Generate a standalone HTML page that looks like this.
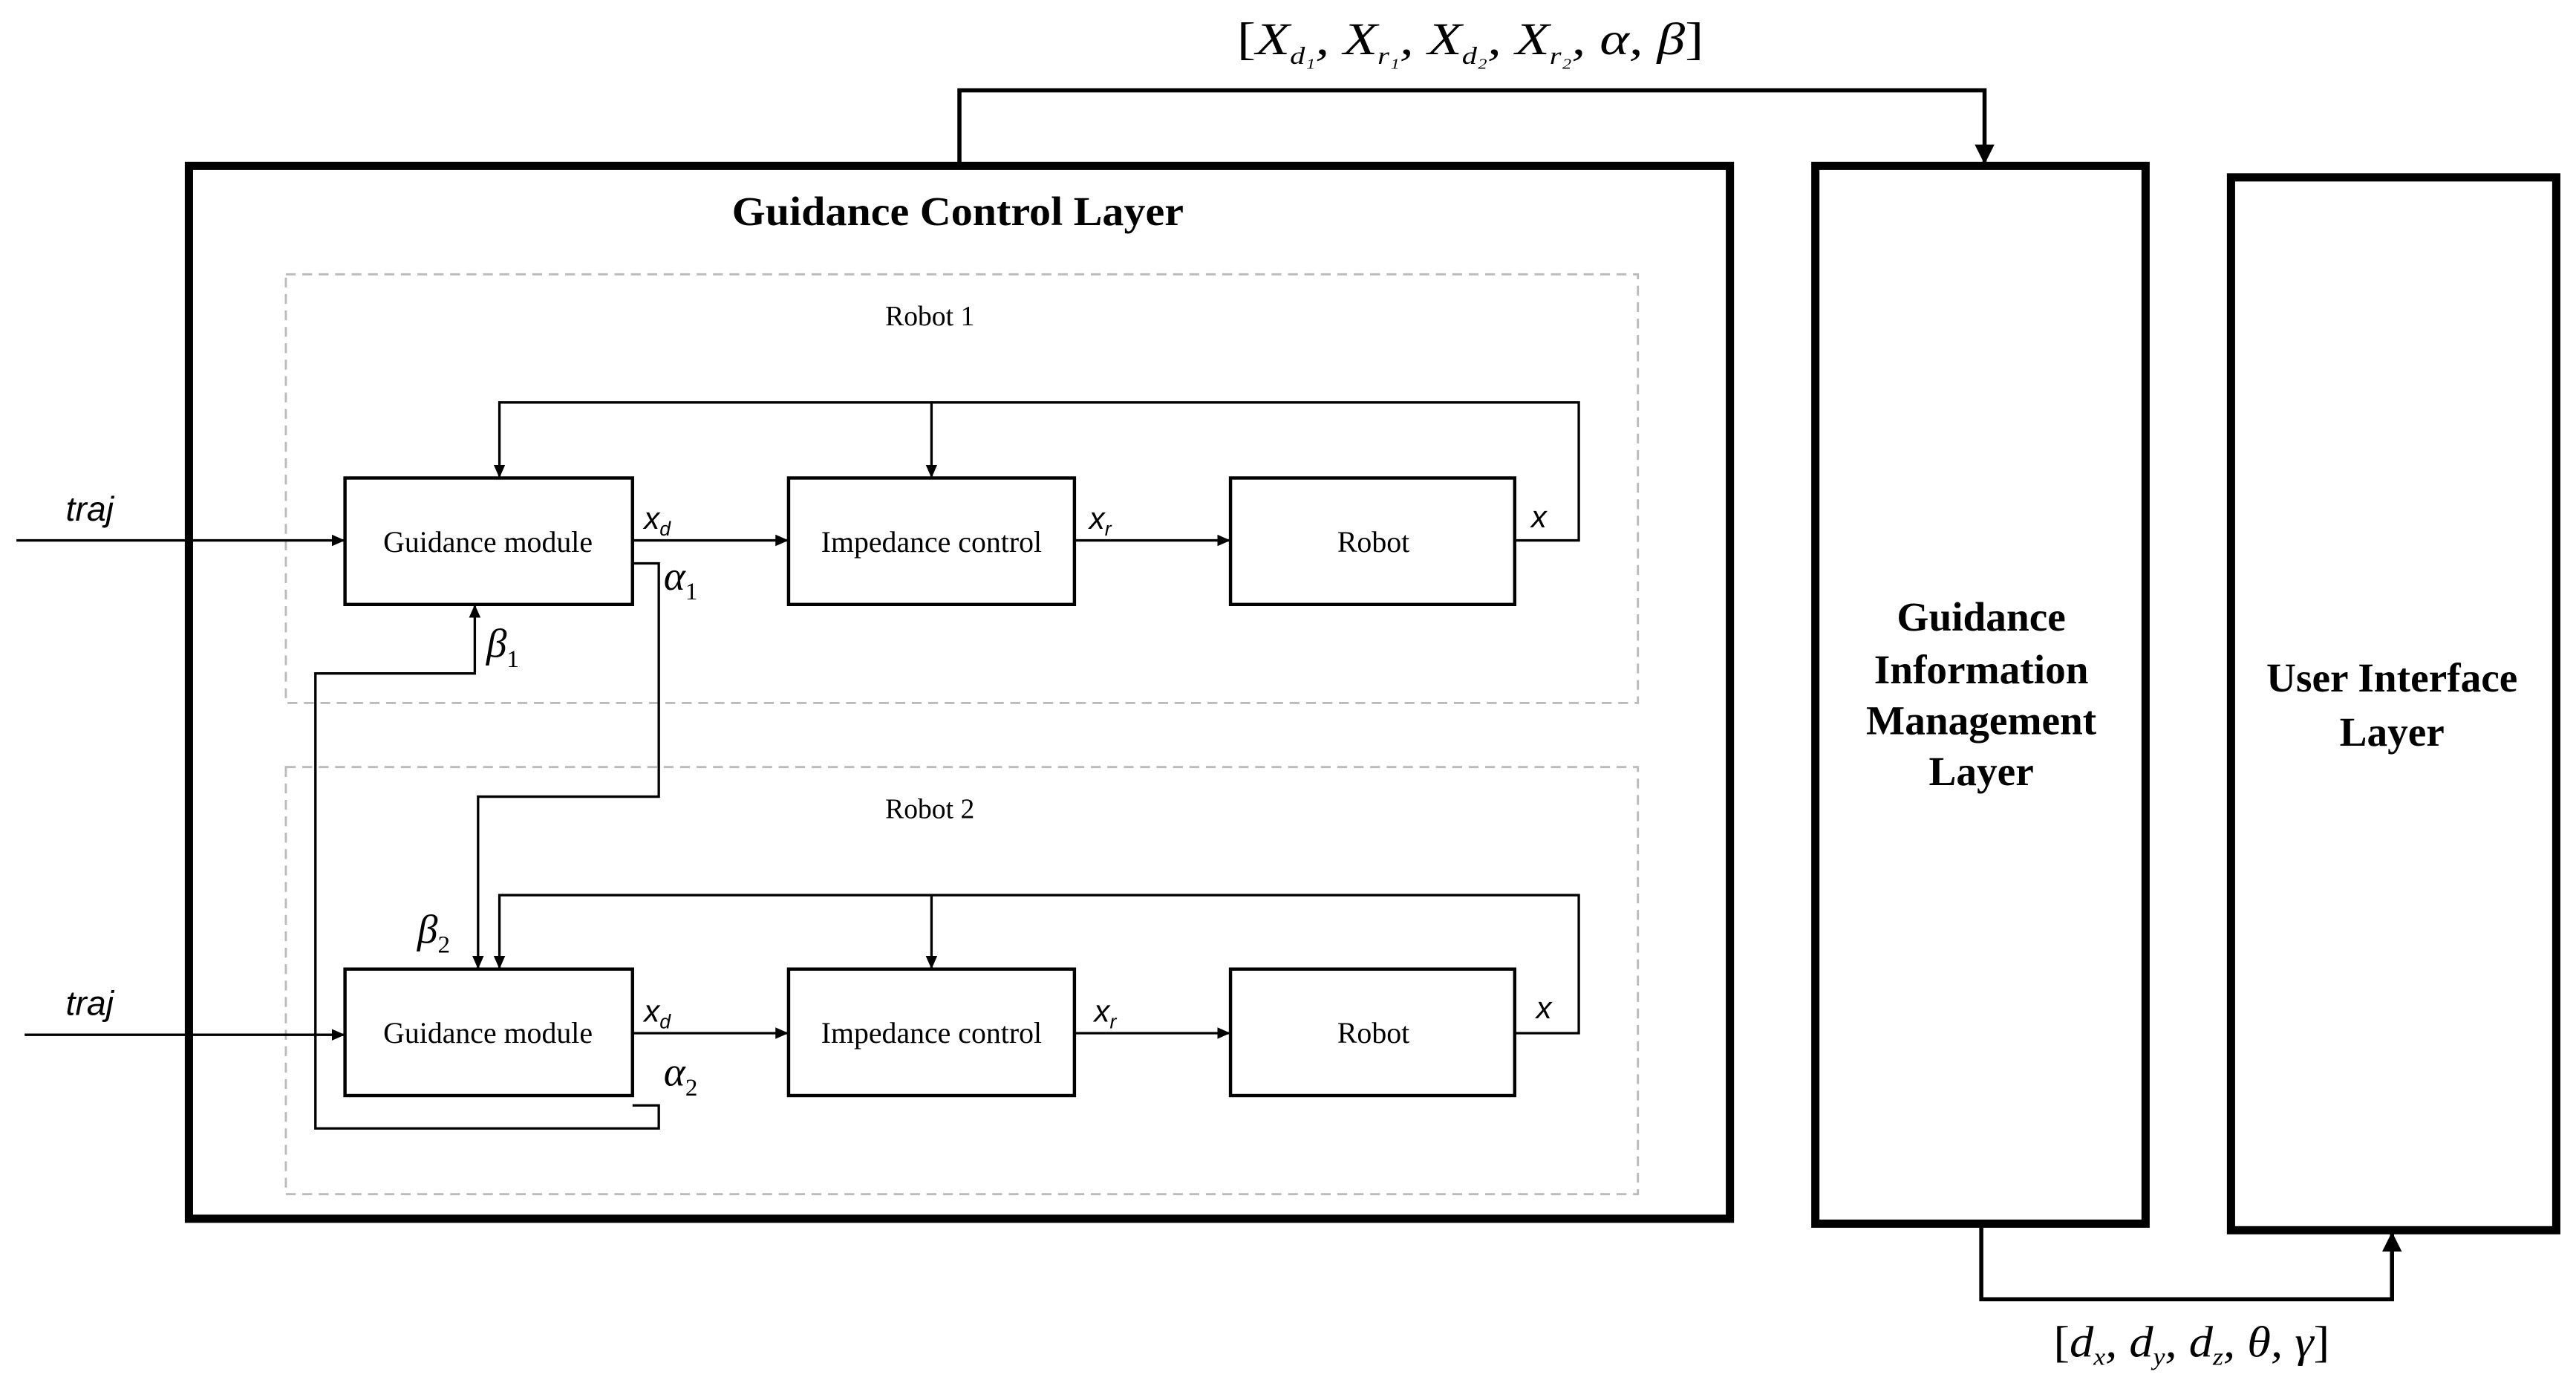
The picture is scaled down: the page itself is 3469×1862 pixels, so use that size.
<!DOCTYPE html>
<html><head><meta charset="utf-8"><style>
html,body{margin:0;padding:0;background:#fff;}
svg{display:block;}
.s{font-family:"Liberation Serif",serif;}
.m{font-family:"Liberation Serif",serif;font-style:italic;}
.t{font-family:"Liberation Sans",sans-serif;font-style:italic;}
</style></head><body>
<svg width="3469" height="1862" viewBox="0 0 1568 842" preserveAspectRatio="none" xmlns="http://www.w3.org/2000/svg">
<defs><marker id="a" markerWidth="8" markerHeight="8" refX="7" refY="4" orient="auto" markerUnits="userSpaceOnUse"><path d="M0,0.5 L8,4 L0,7.5z" fill="#000"/></marker>
<marker id="b" markerWidth="12" markerHeight="12" refX="11" refY="6" orient="auto" markerUnits="userSpaceOnUse"><path d="M0,0 L12,6 L0,12z" fill="#000"/></marker></defs>
<g fill="none" stroke="#000">
<rect x="115" y="101" width="938" height="641" stroke-width="5"/>
<rect x="1105" y="101" width="201" height="644" stroke-width="5"/>
<rect x="1358" y="108" width="198" height="641" stroke-width="5"/>
<rect x="174" y="167" width="823" height="261" stroke="#bbb" stroke-width="1.3" stroke-dasharray="6,4"/>
<rect x="174" y="467" width="823" height="260" stroke="#bbb" stroke-width="1.3" stroke-dasharray="6,4"/>
<g stroke-width="2">
<rect x="210" y="291" width="175" height="77"/><rect x="480" y="291" width="174" height="77"/><rect x="749" y="291" width="173" height="77"/>
<rect x="210" y="590" width="175" height="77"/><rect x="480" y="590" width="174" height="77"/><rect x="749" y="590" width="173" height="77"/>
</g>
<g stroke-width="1.5">
<path d="M10,329H209" marker-end="url(#a)"/><path d="M385,329H479" marker-end="url(#a)"/><path d="M654,329H748" marker-end="url(#a)"/>
<path d="M922,329H961V245H304V290" marker-end="url(#a)"/><path d="M567,245V290" marker-end="url(#a)"/>
<path d="M15,630H209" marker-end="url(#a)"/><path d="M385,629H479" marker-end="url(#a)"/><path d="M654,629H748" marker-end="url(#a)"/>
<path d="M922,629H961V545H304V589" marker-end="url(#a)"/><path d="M567,545V589" marker-end="url(#a)"/>
<path d="M385,343H401V485H291V589" marker-end="url(#a)"/>
<path d="M385,673H401V687H192V410H289V369" marker-end="url(#a)"/>
</g>
<g stroke-width="2.5">
<path d="M584,101V55H1208V99" marker-end="url(#b)"/>
<path d="M1206,745V791H1456V751" marker-end="url(#b)"/>
</g>
</g>
<text class="s" x="583" y="137" font-size="25" font-weight="bold" text-anchor="middle" textLength="275" lengthAdjust="spacingAndGlyphs">Guidance Control Layer</text>
<text class="s" x="566" y="198" font-size="17" text-anchor="middle">Robot 1</text>
<text class="s" x="566" y="498" font-size="17" text-anchor="middle">Robot 2</text>
<g class="s" font-size="18" text-anchor="middle">
<text x="297" y="336">Guidance module</text><text x="567" y="336">Impedance control</text><text x="836" y="336">Robot</text>
<text x="297" y="635">Guidance module</text><text x="567" y="635">Impedance control</text><text x="836" y="635">Robot</text>
</g>
<g class="s" font-size="25" font-weight="bold" text-anchor="middle">
<text x="1206" y="384">Guidance</text><text x="1206" y="416">Information</text><text x="1206" y="447">Management</text><text x="1206" y="478">Layer</text>
<text x="1456" y="421">User Interface</text><text x="1456" y="454">Layer</text>
</g>
<g class="t" font-size="21"><text x="40" y="317">traj</text><text x="40" y="618">traj</text></g>
<g class="t" font-size="19">
<text x="392" y="322">x<tspan font-size="12" dy="4">d</tspan></text><text x="663" y="322">x<tspan font-size="12" dy="4">r</tspan></text><text x="932" y="321">x</text>
<text x="392" y="622">x<tspan font-size="12" dy="4">d</tspan></text><text x="666" y="622">x<tspan font-size="12" dy="4">r</tspan></text><text x="935" y="620">x</text>
</g>
<g class="m" font-size="25">
<text x="404" y="359">α<tspan font-size="15" font-style="normal" dy="6">1</tspan></text>
<text x="296" y="400">β<tspan font-size="15" font-style="normal" dy="6">1</tspan></text>
<text x="254" y="574">β<tspan font-size="15" font-style="normal" dy="6">2</tspan></text>
<text x="404" y="661">α<tspan font-size="15" font-style="normal" dy="6">2</tspan></text>
</g>
<text class="m" x="895" y="33" font-size="28" text-anchor="middle" textLength="284" lengthAdjust="spacingAndGlyphs"><tspan font-style="normal">[</tspan>X<tspan font-size="15" dy="6">d₁</tspan><tspan dy="-6">, X</tspan><tspan font-size="15" dy="6">r₁</tspan><tspan dy="-6">, X</tspan><tspan font-size="15" dy="6">d₂</tspan><tspan dy="-6">, X</tspan><tspan font-size="15" dy="6">r₂</tspan><tspan dy="-6">, α, β</tspan><tspan font-style="normal">]</tspan></text>
<text class="m" x="1334" y="826" font-size="27" text-anchor="middle" textLength="168" lengthAdjust="spacingAndGlyphs"><tspan font-style="normal">[</tspan>d<tspan font-size="15" dy="5">x</tspan><tspan dy="-5">, d</tspan><tspan font-size="15" dy="5">y</tspan><tspan dy="-5">, d</tspan><tspan font-size="15" dy="5">z</tspan><tspan dy="-5">, θ, γ</tspan><tspan font-style="normal">]</tspan></text>
</svg>
</body></html>
